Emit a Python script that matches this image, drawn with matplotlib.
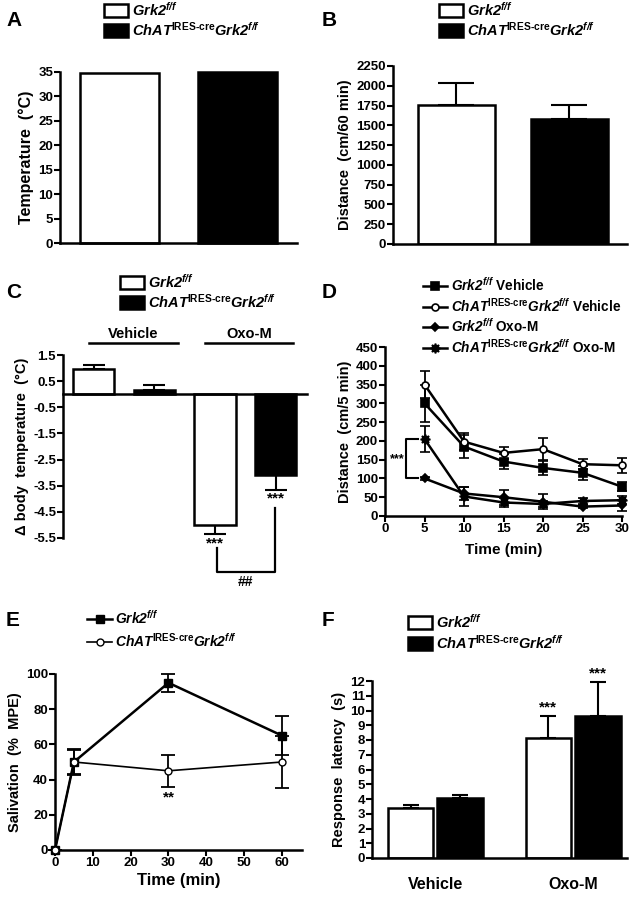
import matplotlib
matplotlib.use("Agg")
import matplotlib.pyplot as plt
from matplotlib.patches import Patch
from matplotlib.lines import Line2D

plt.rcParams["font.family"] = ["Liberation Sans", "DejaVu Sans"]
plt.rcParams["font.weight"] = "bold"
plt.rcParams["axes.labelweight"] = "bold"
plt.rcParams["mathtext.fontset"] = "custom"
plt.rcParams["mathtext.rm"] = "Liberation Sans:bold"
plt.rcParams["mathtext.bf"] = "Liberation Sans:bold"
plt.rcParams["mathtext.it"] = "Liberation Sans:bold:italic"
plt.rcParams["mathtext.bfit"] = "Liberation Sans:bold:italic"

W, H = 635, 899

GRK = r"$\mathbfit{Grk2}^{\mathbfit{f/f}}$"
CHAT = r"$\mathbfit{ChAT}^{\text{IRES-cre}}\mathbfit{Grk2}^{\mathbfit{f/f}}$"

# --- A: body temperature
temp_vals = [34.7, 35.0]
temp_ticks = [0, 5, 10, 15, 20, 25, 30, 35]

# --- B: distance 60 min
dist_vals = [1760, 1580]
dist_err = [270, 180]
dist_ticks = [0, 250, 500, 750, 1000, 1250, 1500, 1750, 2000, 2250]

# --- C: change in body temperature (Vehicle Grk2, Vehicle ChAT, Oxo Grk2, Oxo ChAT)
dtemp_vals = [0.95, 0.15, -5.0, -3.1]
dtemp_err = [0.15, 0.2, 0.35, 0.55]
dtemp_ticks = [1.5, 0.5, -0.5, -1.5, -2.5, -3.5, -4.5, -5.5]

# --- D: distance time course
time_d = [5, 10, 15, 20, 25, 30]
grk_veh = [300, 185, 145, 128, 115, 78]
grk_veh_err = [50, 30, 20, 18, 18, 12]
chat_veh = [350, 198, 168, 178, 138, 135]
chat_veh_err = [35, 22, 17, 30, 13, 20]
grk_oxo = [100, 60, 50, 38, 25, 28]
grk_oxo_err = [5, 18, 20, 20, 5, 15]
chat_oxo = [205, 52, 36, 32, 40, 42]
chat_oxo_err = [35, 25, 12, 8, 8, 10]

# --- E: salivation
time_e = [0, 5, 30, 60]
sal_grk = [0, 50, 95, 65]
sal_grk_err = [0, 7.5, 5, 11]
sal_chat = [0, 50, 45, 50]
sal_chat_err = [0, 7, 9, 15]

# --- F: response latency
groups_f = ["Vehicle", "Oxo-M"]
lat_grk = [3.4, 8.15]
lat_grk_err = [0.2, 1.45]
lat_chat = [4.05, 9.65]
lat_chat_err = [0.25, 2.25]

fig = plt.figure(figsize=(W / 100, H / 100), dpi=100)


def px_axes(x0, x1, ytop, ybot):
    ax = fig.add_axes([x0 / W, 1 - ybot / H, (x1 - x0) / W, (ybot - ytop) / H])
    for s in ("top", "right"):
        ax.spines[s].set_visible(False)
    for s in ("left", "bottom"):
        ax.spines[s].set_linewidth(1.8)
    ax.tick_params(direction="out", length=4, width=1.5, labelsize=9.5, pad=1)
    return ax


def fig_legend(ax, handles, labels, x, y, **kw):
    opts = dict(loc="upper left", bbox_to_anchor=(x / W, 1 - y / H),
                bbox_transform=fig.transFigure, frameon=False, borderpad=0,
                borderaxespad=0, handletextpad=0.25, labelspacing=0.1,
                prop={"weight": "bold", "size": 10.5})
    opts.update(kw)
    ax.legend(handles, labels, **opts)


def panel_letter(x, y, s):
    fig.text(x / W, 1 - y / H, s, fontsize=15, fontweight="bold", va="center", ha="left")


box_handles = [Patch(facecolor="white", edgecolor="black", linewidth=1.8),
               Patch(facecolor="black", edgecolor="black", linewidth=1.8)]
eb = dict(fmt="none", ecolor="black", elinewidth=1.5, capthick=1.5, clip_on=False)

# ---------------- A
axA = px_axes(60, 297, 72, 243)
axA.bar([0, 1], temp_vals, width=0.67, color=["white", "black"], edgecolor="black",
        linewidth=1.8, clip_on=False)
axA.set_xlim(-0.5, 1.5)
axA.set_ylim(0, 35)
axA.set_yticks(temp_ticks)
axA.set_xticks([])
axA.set_ylabel("Temperature  (°C)", fontsize=11.5, labelpad=3)
panel_letter(6, 20, "A")
fig_legend(axA, box_handles, [GRK, CHAT], 104, 1, handlelength=1.65, handleheight=1.0)

# ---------------- B
axB = px_axes(393, 627, 66, 244)
axB.bar([0, 1], dist_vals, width=0.68, color=["white", "black"], edgecolor="black",
        linewidth=1.8, zorder=2)
axB.errorbar([0, 1], dist_vals, yerr=[[0, 0], dist_err], capsize=13, zorder=1, **eb)
axB.set_xlim(-0.56, 1.51)
axB.set_ylim(0, 2250)
axB.set_yticks(dist_ticks)
axB.set_xticks([])
axB.set_ylabel("Distance  (cm/60 min)", fontsize=10.5, labelpad=3)
panel_letter(322, 20, "B")
fig_legend(axB, box_handles, [GRK, CHAT], 439, 1, handlelength=1.65, handleheight=1.0)

# ---------------- C
axC = px_axes(63, 307, 355, 538)
pos_c = [0, 1, 2, 3]
axC.bar(pos_c, dtemp_vals, width=0.68, color=["white", "black", "white", "black"],
        edgecolor="black", linewidth=1.8, zorder=2)
lo = [0 if v > 0 else e for v, e in zip(dtemp_vals, dtemp_err)]
hi = [e if v > 0 else 0 for v, e in zip(dtemp_vals, dtemp_err)]
axC.errorbar(pos_c, dtemp_vals, yerr=[lo, hi], capsize=8, zorder=1, **eb)
axC.set_xlim(-0.51, 3.52)
axC.set_ylim(-5.5, 1.5)
axC.set_yticks(dtemp_ticks)
axC.set_yticklabels([f"{t:g}" for t in dtemp_ticks])
axC.spines["bottom"].set_position(("data", 0))
axC.set_xticks([])
axC.set_ylabel("Δ body  temperature  (°C)", fontsize=10.5, labelpad=3)
for (a, b), name in zip([(-0.08, 1.39), (1.83, 3.29)], ["Vehicle", "Oxo-M"]):
    axC.plot([a, b], [1.96, 1.96], color="black", lw=1.8, clip_on=False)
    axC.text((a + b) / 2, 2.05, name, ha="center", va="bottom", fontsize=10.5,
             fontweight="bold", clip_on=False)
axC.text(2, -5.45, "***", ha="center", va="top", fontsize=11, fontweight="bold")
axC.text(3, -3.72, "***", ha="center", va="top", fontsize=11, fontweight="bold")
axC.plot([2.03, 2.03, 2.99, 2.99], [-5.89, -6.81, -6.81, -4.36], color="black",
         lw=1.6, clip_on=False)
axC.text(2.51, -6.9, "##", ha="center", va="top", fontsize=10, fontweight="bold")
panel_letter(6, 293, "C")
fig_legend(axC, box_handles, [GRK, CHAT], 120, 273, handlelength=1.65, handleheight=1.0)

# ---------------- D
axD = px_axes(385, 622, 347, 516)
styles_d = [
    (grk_veh, grk_veh_err, dict(marker="s", ms=5.5, mfc="black")),
    (chat_veh, chat_veh_err, dict(marker="o", ms=5, mfc="white")),
    (grk_oxo, grk_oxo_err, dict(marker="D", ms=4, mfc="black")),
    (chat_oxo, chat_oxo_err, dict(marker=(8, 1, 0), ms=7, mfc="black")),
]
for vals, err, st in styles_d:
    axD.errorbar(time_d, vals, yerr=err, color="black", lw=1.8, elinewidth=1.3,
                 capsize=3.5, capthick=1.3, mec="black", mew=1.2, clip_on=False, **st)
axD.set_xlim(0, 30)
axD.set_ylim(0, 450)
axD.set_xticks([0, 5, 10, 15, 20, 25, 30])
axD.set_yticks(range(0, 451, 50))
axD.set_xlabel("Time (min)", fontsize=11, labelpad=6)
axD.set_ylabel("Distance  (cm/5 min)", fontsize=10.5, labelpad=3)
axD.plot([4.2, 2.7, 2.7, 4.2], [205, 205, 100, 100], color="black", lw=1.5, clip_on=False)
axD.text(1.5, 150, "***", ha="center", va="center", fontsize=9, fontweight="bold")
panel_letter(322, 293, "D")
d_handles = [Line2D([], [], color="black", lw=1.8, mec="black", mew=1.2, **st)
             for _, _, st in styles_d]
fig_legend(axD, d_handles,
           [GRK + " Vehicle", CHAT + " Vehicle", GRK + " Oxo-M", CHAT + " Oxo-M"],
           423, 276, handlelength=1.8, labelspacing=0.2,
           prop={"weight": "bold", "size": 9.8})

# ---------------- E
axE = px_axes(55, 302, 674, 850)
axE.errorbar(time_e, sal_grk, yerr=sal_grk_err, color="black", lw=1.8, elinewidth=1.3,
             capsize=5, capthick=1.3, marker="s", ms=6, mfc="black", mec="black",
             clip_on=False, zorder=3)
axE.errorbar(time_e, sal_chat, yerr=sal_chat_err, color="black", lw=1.2, elinewidth=1.3,
             capsize=5, capthick=1.3, marker="o", ms=5, mfc="white", mec="black",
             clip_on=False, zorder=3)
axE.set_xlim(0, 65.3)
axE.set_ylim(0, 100)
axE.set_xticks([0, 10, 20, 30, 40, 50, 60])
axE.set_yticks([0, 20, 40, 60, 80, 100])
axE.set_xlabel("Time (min)", fontsize=12, labelpad=3)
axE.set_ylabel("Salivation  (%  MPE)", fontsize=10.5, labelpad=3)
axE.text(30, 30, "**", ha="center", va="center", fontsize=11, fontweight="bold")
panel_letter(6, 620, "E")
e_handles = [Line2D([], [], color="black", lw=1.8, marker="s", ms=6, mfc="black"),
             Line2D([], [], color="black", lw=1.2, marker="o", ms=5, mfc="white")]
fig_legend(axE, e_handles, [GRK, CHAT], 87, 609, handlelength=1.8, labelspacing=0.35,
           prop={"weight": "bold", "size": 10})

# ---------------- F
axF = px_axes(372, 627, 681, 858)
gx = [0, 1]
off = 0.18
xg = [g - off for g in gx]
xc = [g + off for g in gx]
axF.bar(xg, lat_grk, width=0.33, color="white", edgecolor="black", linewidth=1.8, zorder=2)
axF.bar(xc, lat_chat, width=0.33, color="black", edgecolor="black", linewidth=1.8, zorder=2)
axF.errorbar(xg, lat_grk, yerr=[[0, 0], lat_grk_err], capsize=6, zorder=1, **eb)
axF.errorbar(xc, lat_chat, yerr=[[0, 0], lat_chat_err], capsize=6, zorder=1, **eb)
axF.set_xlim(-0.46, 1.39)
axF.set_ylim(0, 12)
axF.set_yticks(range(0, 13))
axF.set_xticks(gx)
axF.set_xticklabels(groups_f, fontsize=11.5)
axF.tick_params(axis="x", length=0, pad=14)
axF.set_ylabel("Response  latency  (s)", fontsize=10.5, labelpad=3)
axF.text(xg[1], lat_grk[1] + lat_grk_err[1] + 0.15, "***", ha="center", va="bottom",
         fontsize=11, fontweight="bold")
axF.text(xc[1], lat_chat[1] + lat_chat_err[1] + 0.15, "***", ha="center", va="bottom",
         fontsize=11, fontweight="bold", clip_on=False)
panel_letter(322, 620, "F")
fig_legend(axF, box_handles, [GRK, CHAT], 408, 613, handlelength=1.65, handleheight=1.0,
           labelspacing=0.2)

fig.savefig("out.png", dpi=100)
